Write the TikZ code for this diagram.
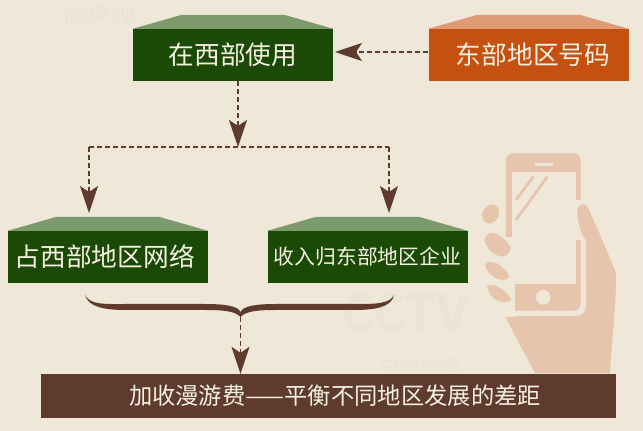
\documentclass[tikz,border=0pt]{standalone}
\usepackage{fontspec}
\setmainfont{Noto Sans CJK SC}
\usetikzlibrary{arrows.meta}
\definecolor{paper}{HTML}{EFE8D9}
\definecolor{leaf}{HTML}{1B4A06}
\definecolor{leaflid}{HTML}{7C9A6C}
\definecolor{rust}{HTML}{C5500F}
\definecolor{rustlid}{HTML}{DF9A76}
\definecolor{bark}{HTML}{5E3B2C}
\definecolor{cream}{HTML}{F4F0E2}
\definecolor{handtint}{HTML}{E7C4AC}
\definecolor{ghost}{HTML}{EBE3D3}
\tikzset{
  box/.style={inner sep=0pt,minimum width=200pt,minimum height=52pt,text=cream,font=\fontsize{25.7}{26}\selectfont},
  flow/.style={bark,line width=1.2pt,dash pattern=on 5pt off 3pt,-{Stealth[length=27pt,width=18pt,inset=6pt]}},
  forkline/.style={bark,line width=1.2pt,dash pattern=on 5pt off 3pt},
  ghosttext/.style={text=ghost,inner sep=0pt},
  finger/.style={fill=handtint,draw=paper,line width=1.5pt}
}
\begin{document}
\begin{tikzpicture}[x=1pt,y=1pt]
\useasboundingbox (0,0) rectangle (643,431);
\fill [paper] (0,0) rectangle (643,431);

% faint marks
\node [ghosttext,font=\fontsize{24}{24}\selectfont] (markat) at (100,414) {@央视};
\node [ghosttext,font=\fontsize{50}{50}\selectfont\bfseries] (markcctv) at (405,118) {CCTV};
\node [ghosttext,font=\fontsize{20}{20}\selectfont] (marknews) at (420,64) {央视新闻};

% hand and phone
\begin{scope}[shift={(460,291)},x=0.3333pt,y=-0.3333pt]
\fill [handtint] (370,190) .. controls (400,240) and (440,330) .. (468,400) .. controls (470,480) and (455,600) .. (450,700) -- (225,700) -- (130,520) -- (360,400) -- cycle;
\fill [paper,rounded corners=10pt] (125,25) rectangle (378,528);
\fill [handtint,rounded corners=7pt] (138,40) rectangle (362,512);
\fill [paper] (157,95) rectangle (347,432);
\fill [paper] (347,180) rectangle (365,300);
\fill [paper] (138,290) rectangle (157,432);
\fill [paper] (130,432) rectangle (165,530);
\fill [handtint] (352,210) .. controls (355,190) and (375,185) .. (385,205) .. controls (410,260) and (440,330) .. (468,400) -- (378,400) -- (378,300) .. controls (365,290) and (352,250) .. (352,210) -- cycle;
\fill [paper] (225,68) rectangle (280,77);
\fill [paper] (250,472) circle (22);
\draw [handtint,line width=2.8pt] (168,180) -- (220,110);
\draw [handtint,line width=2.8pt] (168,240) -- (262,110);
\fill [finger,rotate around={-30:(92,222)}] (92,222) ellipse (27 and 32);
\fill [finger,draw=paper] (70,300) .. controls (80,265) and (115,265) .. (155,320) .. controls (150,370) and (90,360) .. (70,300) -- cycle;
\fill [finger] (72,375) .. controls (80,350) and (130,365) .. (152,410) .. controls (130,440) and (80,410) .. (72,375) -- cycle;
\fill [finger] (78,440) .. controls (85,420) and (140,440) .. (158,480) .. controls (130,505) and (85,480) .. (78,440) -- cycle;
\end{scope}

\node [box,fill=leaf] (usewest) at (233,376) {在西部使用};
\node [box,fill=rust] (eastnum) at (528.5,376) {\hspace*{9pt}东部地区号码};
\node [box,fill=leaf] (westnet) at (107.8,174) {\hspace*{-6pt}占西部地区网络};
\node [box,fill=leaf,font=\fontsize{20.8}{21}\selectfont] (eastfirm) at (367.5,174) {收入归东部地区企业};
\node [inner sep=0pt,minimum width=575pt,minimum height=44pt,fill=bark,text=cream,font=\fontsize{23.3}{24}\selectfont] (balance) at (328.5,35) {\hspace*{13pt}加收漫游费——平衡不同地区发展的差距};

% lids
\foreach \n/\c in {usewest/leaflid,eastnum/rustlid,westnet/leaflid,eastfirm/leaflid}
  \fill [\c] (\n.north west) -- ++(49,14) -- ([xshift=-49pt,yshift=14pt]\n.north east) -- (\n.north east) -- cycle;

\coordinate (hook) at (335,379);
\coordinate (fork) at (238,284);
\coordinate (forkL) at (89,284);
\coordinate (forkR) at (389,284);
\coordinate (tipL) at (89,218);
\coordinate (tipR) at (389,218);
\coordinate (braceL) at (85,136);
\coordinate (braceR) at (394,136);
\coordinate (braceM) at (240.5,114);

\draw [flow] (eastnum.west |- hook) -- (hook);
\draw [flow] (fork |- usewest.south) -- (fork);
\draw [forkline] (forkL) -- (forkR);
\draw [flow] (forkL) -- (tipL);
\draw [flow] (forkR) -- (tipR);

% brace
\fill [bark] (braceL) .. controls (90,126) and (105,127) .. (125,127) -- (205,127) .. controls (225,127) and (238,125) .. (240.5,119) .. controls (243,125) and (256,127) .. (276,127) -- (355,127) .. controls (375,127) and (390,127) .. (braceR) .. controls (392,124) and (375,121) .. (355,121) -- (276,121) .. controls (258,121) and (246,120) .. (braceM) .. controls (235,120) and (223,121) .. (205,121) -- (125,121) .. controls (105,121) and (88,124) .. (braceL) -- cycle;
\draw [flow] (braceM) -- (braceM |- balance.north);
\end{tikzpicture}
\end{document}
